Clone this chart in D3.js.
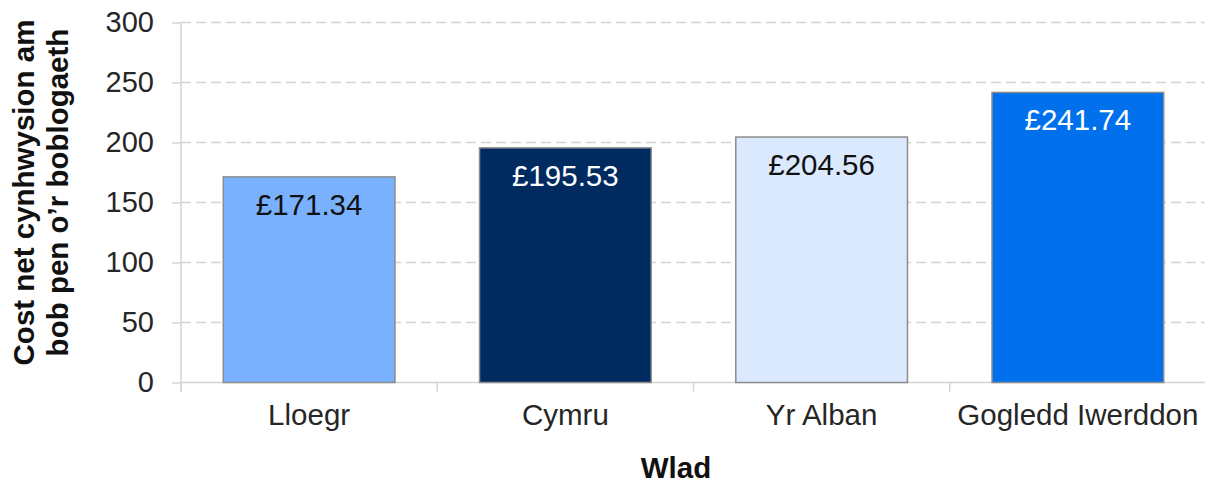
<!DOCTYPE html>
<html>
<head>
<meta charset="utf-8">
<script src="https://cdn.jsdelivr.net/npm/d3@7"></script>
<style>
  body { margin: 0; background: #fff; }
  svg { display: block; font-family: Arial, "Liberation Sans", sans-serif; }
</style>
</head>
<body>
<svg id="chart"></svg>
<script>
// cost per head, by country
const countries = ["Lloegr", "Cymru", "Yr Alban", "Gogledd Iwerddon"];
const costs = [171.34, 195.53, 204.56, 241.74];
const barColors = ["#7ab1ff", "#002b61", "#dbe9ff", "#0070ed"];
const labelColors = ["#111", "#fff", "#111", "#fff"];
const yTicks = [0, 50, 100, 150, 200, 250, 300];
const yTitle = ["Cost net cynhwysion am", "bob pen o\u2019r boblogaeth"];
const xTitle = "Wlad";

var width = 1205, height = 484;
var margin = {top: 22.5, right: -1, bottom: 101.5, left: 181};

var svg = d3.select("#chart").attr("width", width).attr("height", height);

var x = d3.scaleBand()
    .domain(countries)
    .range([margin.left, width - margin.right])
    .paddingInner(0.33)
    .paddingOuter(0.165);

var y = d3.scaleLinear()
    .domain([0, 300])
    .range([height - margin.bottom, margin.top]);

// gridlines
svg.append("g")
  .selectAll("line")
  .data(yTicks.filter(d => d > 0))
  .join("line")
    .attr("x1", margin.left)
    .attr("x2", width)
    .attr("y1", d => y(d))
    .attr("y2", d => y(d))
    .attr("stroke", "#d4d4d4")
    .attr("stroke-width", 1.3)
    .attr("stroke-dasharray", "10,5");

// y axis
var yAxis = svg.append("g")
    .attr("transform", `translate(${margin.left},0)`)
    .call(d3.axisLeft(y).tickValues(yTicks).tickSize(9).tickPadding(18));
yAxis.select(".domain").attr("stroke", "#d4d4d4").attr("stroke-width", 1.5)
    .attr("d", `M0,${y(300)}V${y(0) + 9}`);
yAxis.selectAll(".tick line").attr("stroke", "#d4d4d4").attr("stroke-width", 1.5);
yAxis.selectAll(".tick text")
    .attr("font-size", 29).attr("fill", "#262626").attr("dy", "0.3em")
    .attr("font-family", "Arial, 'Liberation Sans', sans-serif");

// x axis
var bounds = countries.map(c => x(c) - x.step() * x.paddingInner() / 2);
bounds.push(width - margin.right);
var xAxis = svg.append("g");
xAxis.append("line")
    .attr("x1", margin.left).attr("x2", width)
    .attr("y1", y(0)).attr("y2", y(0))
    .attr("stroke", "#d4d4d4").attr("stroke-width", 1.5);
xAxis.selectAll(".xt")
  .data(bounds)
  .join("line")
    .attr("class", "xt")
    .attr("x1", d => d).attr("x2", d => d)
    .attr("y1", y(0)).attr("y2", y(0) + 9)
    .attr("stroke", "#d4d4d4").attr("stroke-width", 1.5);
xAxis.selectAll(".xl")
  .data(countries)
  .join("text")
    .attr("class", "xl")
    .attr("x", d => x(d) + x.bandwidth() / 2)
    .attr("y", 425)
    .attr("text-anchor", "middle")
    .attr("font-size", 29.5)
    .attr("fill", "#262626")
    .text(d => d);

// bars
svg.append("g")
  .selectAll("rect")
  .data(countries)
  .join("rect")
    .attr("x", d => x(d))
    .attr("width", x.bandwidth())
    .attr("y", (d, i) => y(costs[i]))
    .attr("height", (d, i) => y(0) - y(costs[i]))
    .attr("fill", (d, i) => barColors[i])
    .attr("stroke", "#8c8c8c")
    .attr("stroke-width", 1.5);

// value labels
svg.append("g")
  .selectAll("text")
  .data(countries)
  .join("text")
    .attr("x", d => x(d) + x.bandwidth() / 2)
    .attr("y", (d, i) => y(costs[i]) + 38)
    .attr("text-anchor", "middle")
    .attr("font-size", 29.5)
    .attr("fill", (d, i) => labelColors[i])
    .text((d, i) => "\u00a3" + costs[i].toFixed(2));

// axis titles
svg.append("text")
    .attr("transform", "translate(34,192.5) rotate(-90)")
    .attr("text-anchor", "middle")
    .attr("font-size", 29.5)
    .attr("font-weight", "bold")
    .attr("fill", "#111")
  .selectAll("tspan")
  .data(yTitle)
  .join("tspan")
    .attr("x", 0)
    .attr("y", (d, i) => i * 34)
    .text(d => d);

svg.append("text")
    .attr("x", 676)
    .attr("y", 478)
    .attr("text-anchor", "middle")
    .attr("font-size", 29.5)
    .attr("font-weight", "bold")
    .attr("fill", "#111")
    .text(xTitle);
</script>
</body>
</html>
